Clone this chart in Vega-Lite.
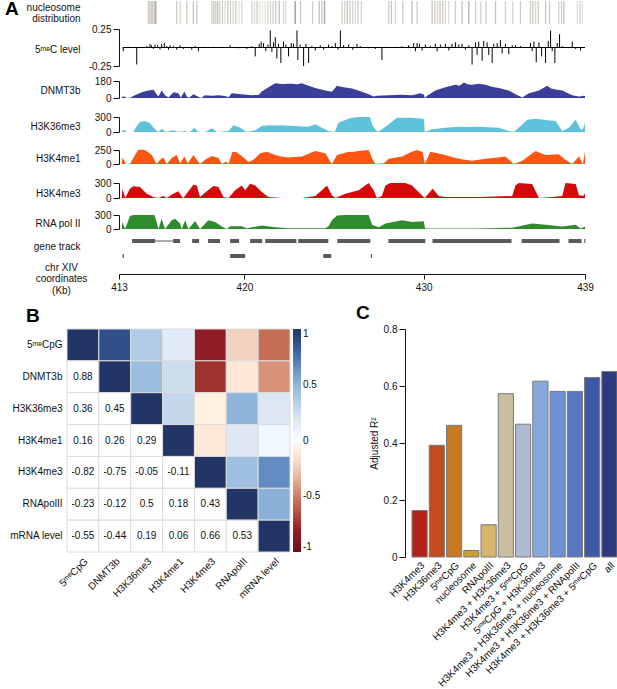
{
"$schema": "https://vega.github.io/schema/vega-lite/v6.json",
"padding": {"left": 5, "top": 0, "right": 0, "bottom": 0},
"config": {
  "font": "Liberation Sans",
  "view": {"stroke": null},
  "axis": {"labelFontSize": 10, "titleFontSize": 10, "titleFontWeight": "normal", "labelColor": "#111", "titleColor": "#111", "domainColor": "#111", "tickColor": "#111", "grid": false, "labelFont": "Liberation Sans", "titleFont": "Liberation Sans"},
  "legend": {"labelFont": "Liberation Sans"},
  "title": {"font": "Liberation Sans"},
  "locale": {"number": {"decimal": ".", "thousands": ",", "grouping": [3], "currency": ["$", ""], "minus": "-"}}
},
"datasets": {
  "nuc": [{"kb":414.64,"occ":0.5},{"kb":414.71,"occ":0.45},{"kb":414.79,"occ":0.55},{"kb":414.86,"occ":0.5},{"kb":414.96,"occ":0.6},{"kb":415.05,"occ":0.8},{"kb":416.22,"occ":0.5},{"kb":416.41,"occ":0.45},{"kb":416.78,"occ":0.5},{"kb":417.15,"occ":0.55},{"kb":417.34,"occ":0.5},{"kb":418.18,"occ":0.45},{"kb":418.29,"occ":0.55},{"kb":418.4,"occ":0.5},{"kb":418.51,"occ":0.6},{"kb":418.62,"occ":0.45},{"kb":418.77,"occ":0.5},{"kb":418.92,"occ":0.4},{"kb":419.07,"occ":0.55},{"kb":419.22,"occ":0.5},{"kb":419.37,"occ":0.45},{"kb":419.52,"occ":0.55},{"kb":419.7,"occ":0.35},{"kb":419.85,"occ":0.4},{"kb":420.41,"occ":0.45},{"kb":420.56,"occ":0.4},{"kb":420.71,"occ":0.5},{"kb":420.86,"occ":0.35},{"kb":421.01,"occ":0.3},{"kb":421.16,"occ":0.35},{"kb":421.31,"occ":0.4},{"kb":421.45,"occ":0.45},{"kb":421.6,"occ":0.5},{"kb":421.75,"occ":0.55},{"kb":421.94,"occ":0.6},{"kb":422.18,"occ":0.45},{"kb":422.31,"occ":0.4},{"kb":422.83,"occ":0.9},{"kb":423.13,"occ":0.55},{"kb":423.8,"occ":0.5},{"kb":424.17,"occ":0.6},{"kb":424.32,"occ":0.55},{"kb":424.47,"occ":0.8},{"kb":425.44,"occ":0.5},{"kb":425.59,"occ":0.45},{"kb":425.74,"occ":0.55},{"kb":425.89,"occ":0.5},{"kb":426.04,"occ":0.45},{"kb":426.18,"occ":0.4},{"kb":426.33,"occ":0.5},{"kb":426.52,"occ":0.45},{"kb":428.05,"occ":0.5},{"kb":428.2,"occ":0.55},{"kb":428.42,"occ":0.45},{"kb":428.83,"occ":0.5},{"kb":429.35,"occ":0.6},{"kb":429.63,"occ":0.5},{"kb":430.47,"occ":0.55},{"kb":430.62,"occ":0.5},{"kb":430.77,"occ":0.45},{"kb":430.91,"occ":0.55},{"kb":431.06,"occ":0.5},{"kb":431.21,"occ":0.45},{"kb":431.4,"occ":0.4},{"kb":431.77,"occ":0.5},{"kb":432.14,"occ":0.55},{"kb":432.52,"occ":0.7},{"kb":432.89,"occ":0.5},{"kb":433.19,"occ":0.45},{"kb":433.48,"occ":0.5},{"kb":434.01,"occ":0.55},{"kb":434.56,"occ":0.5},{"kb":434.97,"occ":0.45},{"kb":435.4,"occ":0.5},{"kb":435.96,"occ":0.5},{"kb":436.09,"occ":0.55},{"kb":436.24,"occ":0.45},{"kb":436.39,"occ":0.5},{"kb":436.8,"occ":0.55},{"kb":437.02,"occ":0.5},{"kb":437.54,"occ":0.45},{"kb":437.69,"occ":0.5},{"kb":437.82,"occ":0.55},{"kb":438.57,"occ":0.4},{"kb":438.72,"occ":0.45},{"kb":438.85,"occ":0.35}],
  "meth": [{"kb":413.24,"v":-0.05},{"kb":413.52,"v":0.01},{"kb":413.99,"v":-0.23},{"kb":414.27,"v":0.01},{"kb":414.55,"v":0.02},{"kb":414.73,"v":0.05},{"kb":414.82,"v":0.03},{"kb":414.92,"v":-0.02},{"kb":415.01,"v":0.04},{"kb":415.16,"v":0.03},{"kb":415.29,"v":-0.03},{"kb":415.38,"v":0.05},{"kb":415.53,"v":0.06},{"kb":415.66,"v":0.02},{"kb":415.76,"v":-0.03},{"kb":415.85,"v":0.03},{"kb":416.04,"v":0.02},{"kb":416.22,"v":-0.03},{"kb":416.41,"v":0.03},{"kb":416.59,"v":-0.02},{"kb":417.06,"v":-0.03},{"kb":417.25,"v":0.02},{"kb":417.43,"v":-0.05},{"kb":417.71,"v":0.01},{"kb":418.27,"v":0.01},{"kb":418.74,"v":0.01},{"kb":419.2,"v":0.03},{"kb":419.67,"v":-0.01},{"kb":420.13,"v":-0.02},{"kb":420.41,"v":0.02},{"kb":420.6,"v":-0.12},{"kb":420.82,"v":0.05},{"kb":420.93,"v":0.08},{"kb":421.06,"v":0.06},{"kb":421.19,"v":-0.05},{"kb":421.31,"v":0.04},{"kb":421.44,"v":0.23},{"kb":421.53,"v":-0.06},{"kb":421.62,"v":0.07},{"kb":421.72,"v":0.14},{"kb":421.81,"v":-0.15},{"kb":421.9,"v":0.05},{"kb":422.03,"v":-0.21},{"kb":422.18,"v":0.08},{"kb":422.31,"v":0.04},{"kb":422.46,"v":-0.12},{"kb":422.61,"v":0.06},{"kb":422.74,"v":0.05},{"kb":422.93,"v":0.23},{"kb":422.98,"v":-0.17},{"kb":423.11,"v":0.04},{"kb":423.3,"v":-0.25},{"kb":423.43,"v":0.05},{"kb":423.58,"v":-0.21},{"kb":423.76,"v":0.02},{"kb":423.95,"v":-0.04},{"kb":424.23,"v":0.03},{"kb":424.42,"v":-0.03},{"kb":424.69,"v":0.04},{"kb":424.88,"v":0.02},{"kb":425.07,"v":0.06},{"kb":425.22,"v":-0.03},{"kb":425.35,"v":0.23},{"kb":425.53,"v":0.03},{"kb":425.81,"v":0.04},{"kb":426.04,"v":-0.03},{"kb":426.28,"v":0.05},{"kb":426.46,"v":0.02},{"kb":426.93,"v":-0.01},{"kb":427.3,"v":-0.02},{"kb":427.67,"v":-0.17},{"kb":427.86,"v":0.01},{"kb":428.42,"v":0.01},{"kb":428.79,"v":0.02},{"kb":429.16,"v":0.03},{"kb":429.44,"v":0.06},{"kb":429.54,"v":-0.05},{"kb":429.63,"v":0.06},{"kb":429.76,"v":0.05},{"kb":429.91,"v":-0.04},{"kb":430.09,"v":0.04},{"kb":430.37,"v":0.02},{"kb":430.65,"v":0.05},{"kb":430.75,"v":-0.05},{"kb":430.93,"v":0.04},{"kb":431.21,"v":0.05},{"kb":431.4,"v":-0.04},{"kb":431.58,"v":0.05},{"kb":431.77,"v":0.07},{"kb":431.96,"v":0.04},{"kb":432.14,"v":0.05},{"kb":432.33,"v":-0.03},{"kb":432.52,"v":0.03},{"kb":432.7,"v":-0.23},{"kb":432.89,"v":0.07},{"kb":432.98,"v":-0.1},{"kb":433.07,"v":0.08},{"kb":433.26,"v":-0.18},{"kb":433.35,"v":0.09},{"kb":433.54,"v":0.07},{"kb":433.63,"v":-0.1},{"kb":433.82,"v":-0.21},{"kb":433.91,"v":0.05},{"kb":434.1,"v":0.06},{"kb":434.28,"v":0.1},{"kb":434.38,"v":-0.08},{"kb":434.56,"v":0.05},{"kb":434.75,"v":-0.09},{"kb":434.94,"v":0.03},{"kb":435.12,"v":0.03},{"kb":435.4,"v":0.02},{"kb":435.96,"v":0.06},{"kb":436.05,"v":-0.05},{"kb":436.15,"v":0.08},{"kb":436.28,"v":-0.2},{"kb":436.43,"v":0.07},{"kb":436.58,"v":-0.12},{"kb":436.8,"v":-0.21},{"kb":436.95,"v":0.09},{"kb":437.08,"v":0.23},{"kb":437.17,"v":-0.05},{"kb":437.32,"v":-0.21},{"kb":437.45,"v":0.06},{"kb":437.58,"v":0.18},{"kb":437.73,"v":0.02},{"kb":438.29,"v":0.08},{"kb":438.48,"v":-0.02},{"kb":438.75,"v":-0.04}],
  "dnmt": [{"kb":413.15,"v":0},{"kb":413.19,"v":15},{"kb":413.34,"v":12},{"kb":413.43,"v":0},{"kb":413.61,"v":3},{"kb":413.89,"v":30},{"kb":414.27,"v":60},{"kb":414.64,"v":80},{"kb":414.92,"v":88},{"kb":415.1,"v":40},{"kb":415.2,"v":15},{"kb":415.38,"v":80},{"kb":415.57,"v":30},{"kb":415.76,"v":5},{"kb":416.04,"v":60},{"kb":416.31,"v":50},{"kb":416.45,"v":5},{"kb":416.65,"v":70},{"kb":416.78,"v":15},{"kb":416.91,"v":3},{"kb":417.15,"v":40},{"kb":417.43,"v":12},{"kb":417.58,"v":0},{"kb":417.8,"v":30},{"kb":418.18,"v":25},{"kb":418.55,"v":28},{"kb":418.92,"v":22},{"kb":419.11,"v":8},{"kb":419.29,"v":50},{"kb":419.55,"v":45},{"kb":419.85,"v":40},{"kb":420.41,"v":30},{"kb":420.78,"v":32},{"kb":420.97,"v":70},{"kb":421.34,"v":115},{"kb":421.72,"v":157},{"kb":422.09,"v":147},{"kb":422.4,"v":152},{"kb":422.65,"v":150},{"kb":422.95,"v":145},{"kb":423.2,"v":157},{"kb":423.58,"v":130},{"kb":423.95,"v":105},{"kb":424.51,"v":80},{"kb":424.88,"v":65},{"kb":425.16,"v":130},{"kb":425.4,"v":118},{"kb":425.63,"v":110},{"kb":426.0,"v":100},{"kb":426.56,"v":65},{"kb":426.93,"v":40},{"kb":427.21,"v":15},{"kb":427.39,"v":25},{"kb":428.05,"v":30},{"kb":428.7,"v":35},{"kb":429.35,"v":30},{"kb":429.81,"v":50},{"kb":430.02,"v":35},{"kb":430.06,"v":0},{"kb":430.19,"v":25},{"kb":430.65,"v":80},{"kb":431.21,"v":115},{"kb":431.77,"v":140},{"kb":432.0,"v":130},{"kb":432.24,"v":165},{"kb":432.45,"v":145},{"kb":432.7,"v":140},{"kb":433.07,"v":150},{"kb":433.45,"v":140},{"kb":433.8,"v":120},{"kb":434.19,"v":105},{"kb":434.75,"v":80},{"kb":435.12,"v":40},{"kb":435.5,"v":5},{"kb":435.87,"v":50},{"kb":436.43,"v":80},{"kb":436.89,"v":130},{"kb":437.1,"v":100},{"kb":437.36,"v":90},{"kb":437.73,"v":80},{"kb":438.29,"v":30},{"kb":438.66,"v":15},{"kb":438.94,"v":25},{"kb":439.0,"v":20}],
  "k36": [{"kb":413.15,"v":0},{"kb":413.19,"v":40},{"kb":413.34,"v":30},{"kb":413.45,"v":0},{"kb":413.8,"v":0},{"kb":413.99,"v":120},{"kb":414.17,"v":200},{"kb":414.45,"v":220},{"kb":414.73,"v":175},{"kb":415.01,"v":55},{"kb":415.2,"v":0},{"kb":415.4,"v":65},{"kb":415.6,"v":0},{"kb":416.03,"v":35},{"kb":416.31,"v":0},{"kb":416.69,"v":20},{"kb":416.85,"v":0},{"kb":417.0,"v":10},{"kb":417.21,"v":85},{"kb":417.43,"v":0},{"kb":417.85,"v":5},{"kb":418.18,"v":75},{"kb":418.46,"v":0},{"kb":419.11,"v":20},{"kb":419.39,"v":135},{"kb":419.76,"v":85},{"kb":420.13,"v":0},{"kb":420.6,"v":35},{"kb":420.97,"v":120},{"kb":421.34,"v":135},{"kb":421.7,"v":130},{"kb":422.09,"v":135},{"kb":422.45,"v":125},{"kb":422.83,"v":120},{"kb":423.2,"v":110},{"kb":423.58,"v":105},{"kb":423.95,"v":155},{"kb":424.32,"v":85},{"kb":424.69,"v":20},{"kb":425.03,"v":0},{"kb":425.25,"v":185},{"kb":425.81,"v":265},{"kb":426.0,"v":285},{"kb":426.4,"v":300},{"kb":427.0,"v":300},{"kb":427.16,"v":120},{"kb":427.44,"v":0},{"kb":427.67,"v":55},{"kb":428.05,"v":155},{"kb":428.51,"v":285},{"kb":429.35,"v":285},{"kb":429.91,"v":265},{"kb":430.02,"v":250},{"kb":430.06,"v":0},{"kb":430.47,"v":55},{"kb":431.21,"v":85},{"kb":431.96,"v":105},{"kb":432.5,"v":100},{"kb":433.07,"v":105},{"kb":433.6,"v":95},{"kb":434.19,"v":85},{"kb":434.75,"v":20},{"kb":435.03,"v":0},{"kb":435.4,"v":120},{"kb":435.78,"v":245},{"kb":436.24,"v":265},{"kb":436.8,"v":240},{"kb":437.36,"v":220},{"kb":437.73,"v":20},{"kb":438.1,"v":85},{"kb":438.48,"v":245},{"kb":438.75,"v":55},{"kb":438.88,"v":55},{"kb":439.0,"v":185}],
  "k4me1": [{"kb":413.15,"v":0},{"kb":413.19,"v":115},{"kb":413.3,"v":60},{"kb":413.38,"v":0},{"kb":413.61,"v":0},{"kb":413.89,"v":160},{"kb":414.08,"v":255},{"kb":414.45,"v":250},{"kb":414.83,"v":160},{"kb":415.1,"v":0},{"kb":415.29,"v":75},{"kb":415.48,"v":115},{"kb":415.66,"v":0},{"kb":415.94,"v":105},{"kb":416.22,"v":160},{"kb":416.41,"v":15},{"kb":416.65,"v":135},{"kb":416.84,"v":15},{"kb":417.15,"v":160},{"kb":417.52,"v":0},{"kb":417.8,"v":75},{"kb":418.18,"v":145},{"kb":418.55,"v":105},{"kb":418.74,"v":0},{"kb":418.96,"v":45},{"kb":419.11,"v":0},{"kb":419.33,"v":220},{"kb":419.57,"v":210},{"kb":419.95,"v":115},{"kb":420.23,"v":35},{"kb":420.5,"v":75},{"kb":420.88,"v":190},{"kb":421.25,"v":220},{"kb":421.72,"v":160},{"kb":422.1,"v":130},{"kb":422.46,"v":115},{"kb":422.83,"v":125},{"kb":423.2,"v":135},{"kb":423.95,"v":230},{"kb":424.51,"v":190},{"kb":424.88,"v":0},{"kb":425.16,"v":160},{"kb":425.81,"v":220},{"kb":426.0,"v":215},{"kb":426.37,"v":230},{"kb":426.93,"v":250},{"kb":427.12,"v":105},{"kb":427.3,"v":0},{"kb":427.77,"v":15},{"kb":428.05,"v":95},{"kb":428.79,"v":135},{"kb":429.35,"v":220},{"kb":429.63,"v":250},{"kb":429.95,"v":210},{"kb":430.06,"v":0},{"kb":430.37,"v":220},{"kb":431.03,"v":175},{"kb":431.77,"v":105},{"kb":432.2,"v":80},{"kb":432.7,"v":60},{"kb":433.45,"v":95},{"kb":434.0,"v":110},{"kb":434.56,"v":135},{"kb":435.03,"v":0},{"kb":435.5,"v":60},{"kb":436.24,"v":230},{"kb":436.8,"v":160},{"kb":437.54,"v":175},{"kb":437.91,"v":75},{"kb":438.29,"v":0},{"kb":438.66,"v":135},{"kb":438.88,"v":0},{"kb":439.0,"v":220}],
  "k4me3": [{"kb":413.15,"v":0},{"kb":413.19,"v":185},{"kb":413.3,"v":60},{"kb":413.34,"v":0},{"kb":413.61,"v":185},{"kb":413.8,"v":235},{"kb":414.17,"v":220},{"kb":414.55,"v":85},{"kb":414.92,"v":20},{"kb":415.2,"v":0},{"kb":415.48,"v":40},{"kb":415.66,"v":0},{"kb":416.03,"v":85},{"kb":416.31,"v":135},{"kb":416.5,"v":30},{"kb":416.59,"v":0},{"kb":417.15,"v":265},{"kb":417.34,"v":250},{"kb":417.52,"v":20},{"kb":417.9,"v":135},{"kb":418.27,"v":240},{"kb":418.55,"v":220},{"kb":418.83,"v":20},{"kb":419.11,"v":0},{"kb":419.48,"v":155},{"kb":419.85,"v":250},{"kb":420.04,"v":155},{"kb":420.32,"v":285},{"kb":420.6,"v":250},{"kb":420.97,"v":120},{"kb":421.34,"v":20},{"kb":422.09,"v":0},{"kb":423.2,"v":0},{"kb":423.95,"v":40},{"kb":424.32,"v":155},{"kb":424.6,"v":250},{"kb":424.88,"v":55},{"kb":425.07,"v":0},{"kb":425.63,"v":85},{"kb":426.37,"v":155},{"kb":426.93,"v":300},{"kb":427.21,"v":155},{"kb":427.39,"v":0},{"kb":427.67,"v":40},{"kb":427.86,"v":250},{"kb":428.14,"v":300},{"kb":428.98,"v":300},{"kb":429.35,"v":250},{"kb":429.81,"v":85},{"kb":430.06,"v":0},{"kb":430.5,"v":185},{"kb":430.84,"v":40},{"kb":431.21,"v":20},{"kb":433.07,"v":20},{"kb":434.94,"v":40},{"kb":435.12,"v":250},{"kb":435.31,"v":300},{"kb":436.05,"v":280},{"kb":436.43,"v":0},{"kb":437.17,"v":20},{"kb":437.73,"v":40},{"kb":437.91,"v":300},{"kb":438.48,"v":280},{"kb":438.66,"v":55},{"kb":438.94,"v":40},{"kb":439.0,"v":110}],
  "pol2": [{"kb":413.15,"v":0},{"kb":413.19,"v":150},{"kb":413.34,"v":0},{"kb":413.61,"v":280},{"kb":413.8,"v":300},{"kb":414.98,"v":300},{"kb":415.1,"v":150},{"kb":415.2,"v":0},{"kb":415.38,"v":220},{"kb":415.57,"v":0},{"kb":415.94,"v":185},{"kb":416.13,"v":220},{"kb":416.41,"v":120},{"kb":416.5,"v":0},{"kb":416.69,"v":185},{"kb":416.87,"v":0},{"kb":417.25,"v":170},{"kb":417.52,"v":0},{"kb":417.99,"v":185},{"kb":418.36,"v":150},{"kb":418.74,"v":55},{"kb":419.02,"v":0},{"kb":419.2,"v":60},{"kb":419.85,"v":60},{"kb":420.13,"v":15},{"kb":420.97,"v":75},{"kb":421.72,"v":40},{"kb":422.46,"v":15},{"kb":424.51,"v":15},{"kb":424.69,"v":60},{"kb":424.88,"v":185},{"kb":425.16,"v":290},{"kb":425.63,"v":300},{"kb":426.93,"v":300},{"kb":427.12,"v":90},{"kb":427.49,"v":40},{"kb":427.86,"v":120},{"kb":428.79,"v":185},{"kb":429.35,"v":150},{"kb":430.0,"v":165},{"kb":430.08,"v":10},{"kb":431.0,"v":10},{"kb":433.0,"v":12},{"kb":434.94,"v":25},{"kb":436.05,"v":120},{"kb":436.8,"v":90},{"kb":437.73,"v":55},{"kb":438.48,"v":90},{"kb":438.75,"v":10},{"kb":439.0,"v":55}],
  "genes": [{"start":413.73,"end":415.01,"strand":"W","part":"exon"},{"start":415.01,"end":416.02,"strand":"W","part":"intron"},{"start":416.02,"end":416.41,"strand":"W","part":"exon"},{"start":417.08,"end":417.47,"strand":"W","part":"exon"},{"start":417.97,"end":418.64,"strand":"W","part":"exon"},{"start":419.2,"end":419.7,"strand":"W","part":"exon"},{"start":420.32,"end":420.99,"strand":"W","part":"exon"},{"start":421.16,"end":422.9,"strand":"W","part":"exon"},{"start":423.0,"end":424.68,"strand":"W","part":"exon"},{"start":425.18,"end":427.02,"strand":"W","part":"exon"},{"start":428.03,"end":430.09,"strand":"W","part":"exon"},{"start":430.49,"end":434.9,"strand":"W","part":"exon"},{"start":435.46,"end":437.58,"strand":"W","part":"exon"},{"start":438.08,"end":438.81,"strand":"W","part":"exon"},{"start":438.96,"end":439.02,"strand":"W","part":"exon"},{"start":413.2,"end":413.27,"strand":"C","part":"exon"},{"start":419.2,"end":420.04,"strand":"C","part":"exon"},{"start":424.4,"end":424.84,"strand":"C","part":"exon"},{"start":427.05,"end":427.12,"strand":"C","part":"exon"}],
  "corr": [
    {"row":"5ᵐᵉCpG","col":"5ᵐᵉCpG","r":1,"tri":"diag"},{"row":"5ᵐᵉCpG","col":"DNMT3b","r":0.88,"tri":"upper"},{"row":"5ᵐᵉCpG","col":"H3K36me3","r":0.36,"tri":"upper"},{"row":"5ᵐᵉCpG","col":"H3K4me1","r":0.16,"tri":"upper"},{"row":"5ᵐᵉCpG","col":"H3K4me3","r":-0.82,"tri":"upper"},{"row":"5ᵐᵉCpG","col":"RNApolII","r":-0.23,"tri":"upper"},{"row":"5ᵐᵉCpG","col":"mRNA level","r":-0.55,"tri":"upper"},
    {"row":"DNMT3b","col":"5ᵐᵉCpG","r":0.88,"tri":"lower"},{"row":"DNMT3b","col":"DNMT3b","r":1,"tri":"diag"},{"row":"DNMT3b","col":"H3K36me3","r":0.45,"tri":"upper"},{"row":"DNMT3b","col":"H3K4me1","r":0.26,"tri":"upper"},{"row":"DNMT3b","col":"H3K4me3","r":-0.75,"tri":"upper"},{"row":"DNMT3b","col":"RNApolII","r":-0.12,"tri":"upper"},{"row":"DNMT3b","col":"mRNA level","r":-0.44,"tri":"upper"},
    {"row":"H3K36me3","col":"5ᵐᵉCpG","r":0.36,"tri":"lower"},{"row":"H3K36me3","col":"DNMT3b","r":0.45,"tri":"lower"},{"row":"H3K36me3","col":"H3K36me3","r":1,"tri":"diag"},{"row":"H3K36me3","col":"H3K4me1","r":0.29,"tri":"upper"},{"row":"H3K36me3","col":"H3K4me3","r":-0.05,"tri":"upper"},{"row":"H3K36me3","col":"RNApolII","r":0.5,"tri":"upper"},{"row":"H3K36me3","col":"mRNA level","r":0.19,"tri":"upper"},
    {"row":"H3K4me1","col":"5ᵐᵉCpG","r":0.16,"tri":"lower"},{"row":"H3K4me1","col":"DNMT3b","r":0.26,"tri":"lower"},{"row":"H3K4me1","col":"H3K36me3","r":0.29,"tri":"lower"},{"row":"H3K4me1","col":"H3K4me1","r":1,"tri":"diag"},{"row":"H3K4me1","col":"H3K4me3","r":-0.11,"tri":"upper"},{"row":"H3K4me1","col":"RNApolII","r":0.18,"tri":"upper"},{"row":"H3K4me1","col":"mRNA level","r":0.06,"tri":"upper"},
    {"row":"H3K4me3","col":"5ᵐᵉCpG","r":-0.82,"tri":"lower"},{"row":"H3K4me3","col":"DNMT3b","r":-0.75,"tri":"lower"},{"row":"H3K4me3","col":"H3K36me3","r":-0.05,"tri":"lower"},{"row":"H3K4me3","col":"H3K4me1","r":-0.11,"tri":"lower"},{"row":"H3K4me3","col":"H3K4me3","r":1,"tri":"diag"},{"row":"H3K4me3","col":"RNApolII","r":0.43,"tri":"upper"},{"row":"H3K4me3","col":"mRNA level","r":0.66,"tri":"upper"},
    {"row":"RNApolII","col":"5ᵐᵉCpG","r":-0.23,"tri":"lower"},{"row":"RNApolII","col":"DNMT3b","r":-0.12,"tri":"lower"},{"row":"RNApolII","col":"H3K36me3","r":0.5,"tri":"lower"},{"row":"RNApolII","col":"H3K4me1","r":0.18,"tri":"lower"},{"row":"RNApolII","col":"H3K4me3","r":0.43,"tri":"lower"},{"row":"RNApolII","col":"RNApolII","r":1,"tri":"diag"},{"row":"RNApolII","col":"mRNA level","r":0.53,"tri":"upper"},
    {"row":"mRNA level","col":"5ᵐᵉCpG","r":-0.55,"tri":"lower"},{"row":"mRNA level","col":"DNMT3b","r":-0.44,"tri":"lower"},{"row":"mRNA level","col":"H3K36me3","r":0.19,"tri":"lower"},{"row":"mRNA level","col":"H3K4me1","r":0.06,"tri":"lower"},{"row":"mRNA level","col":"H3K4me3","r":0.66,"tri":"lower"},{"row":"mRNA level","col":"RNApolII","r":0.53,"tri":"lower"},{"row":"mRNA level","col":"mRNA level","r":1,"tri":"diag"}],
  "r2": [{"model":"H3K4me3","adjR2":0.163},{"model":"H3K36me3","adjR2":0.392},{"model":"5ᵐᵉCpG","adjR2":0.462},{"model":"nucleosome","adjR2":0.023},{"model":"RNApolII","adjR2":0.113},{"model":"H3K4me3 + H3K36me3","adjR2":0.573},{"model":"H3K4me3 + 5ᵐᵉCpG","adjR2":0.466},{"model":"5ᵐᵉCpG + H3K36me3","adjR2":0.617},{"model":"H3K4me3 + H3K36me3 + nucleosome","adjR2":0.581},{"model":"H3K4me3 + H3K36me3 + RNApolII","adjR2":0.581},{"model":"H3K4me3 + H3K36me3 + 5ᵐᵉCpG","adjR2":0.63},{"model":"all","adjR2":0.651}]
},
"bounds": "flush",
"spacing": 0,
"vconcat": [
  {
    "width": 518, "height": 23,
    "title": {"text": "A", "anchor": "start", "frame": "group", "fontSize": 19, "fontWeight": "bold", "offset": 0, "dx": -62, "dy": 34, "baseline": "alphabetic", "color": "#000"},
    "data": {"name": "nuc"},
    "mark": {"type": "rule", "strokeWidth": 1.3},
    "encoding": {
      "x": {"field": "kb", "type": "quantitative", "scale": {"domain": [413, 439], "range": [52, 518], "nice": false, "zero": false}, "axis": null},
      "y": {"datum": 0, "type": "quantitative", "scale": {"domain": [0, 1], "range": [23, 0], "nice": false}, "axis": {"title": ["nucleosome", "distribution"], "labels": false, "ticks": false, "domain": false, "offset": -52, "titleAngle": 0, "titleAlign": "right", "titleBaseline": "top", "titleX": -39, "titleY": 1, "titleLineHeight": 11}},
      "y2": {"datum": 1},
      "color": {"field": "occ", "type": "quantitative", "scale": {"domain": [0.3, 0.9], "range": ["#ece9e4", "#9a948b"]}, "legend": null}
    }
  },
  {
    "width": 518, "height": 42,
    "layer": [
      {
        "data": {"name": "meth"},
        "mark": {"type": "rule", "color": "#000", "strokeWidth": 1},
        "encoding": {
          "x": {"field": "kb", "type": "quantitative", "scale": {"domain": [413, 439], "range": [52, 518], "nice": false, "zero": false}, "axis": null},
          "y": {"field": "v", "type": "quantitative", "scale": {"domain": [-0.25, 0.25], "range": [42, 5], "nice": false, "zero": false}, "axis": {"values": [-0.25, 0, 0.25], "labelExpr": "datum.value == 0 ? '0' : format(datum.value, '.2f')", "offset": -52, "title": "5ᵐᵉC level", "titleAngle": 0, "titleAlign": "right", "titleBaseline": "middle", "titleX": -39, "titleY": 25, "tickSize": 6, "labelPadding": 2, "labelOverlap": false}},
          "y2": {"datum": 0}
        }
      },
      {
        "data": {"values": [{"from": 413.2, "to": 439}]},
        "mark": {"type": "rule", "color": "#000", "strokeWidth": 1},
        "encoding": {
          "x": {"field": "from", "type": "quantitative"},
          "x2": {"field": "to"},
          "y": {"datum": 0, "type": "quantitative"}
        }
      }
    ]
  },
  {
    "width": 518, "height": 32,
    "data": {"name": "dnmt"},
    "mark": {"type": "area", "color": "#3C3F9A"},
    "encoding": {
      "x": {"field": "kb", "type": "quantitative", "scale": {"domain": [413, 439], "range": [52, 518], "nice": false, "zero": false}, "axis": null},
      "y": {"field": "v", "type": "quantitative", "scale": {"domain": [0, 180], "range": [32, 15], "nice": false}, "axis": {"values": [0, 180], "offset": -52, "title": "DNMT3b", "titleAngle": 0, "titleAlign": "right", "titleBaseline": "middle", "titleX": -39, "titleY": 24, "tickSize": 6, "labelPadding": 2, "labelOverlap": false}}
    }
  },
  {
    "width": 518, "height": 34,
    "data": {"name": "k36"},
    "mark": {"type": "area", "color": "#5EC2DB"},
    "encoding": {
      "x": {"field": "kb", "type": "quantitative", "scale": {"domain": [413, 439], "range": [52, 518], "nice": false, "zero": false}, "axis": null},
      "y": {"field": "v", "type": "quantitative", "scale": {"domain": [0, 300], "range": [34, 19], "nice": false}, "axis": {"values": [0, 300], "offset": -52, "title": "H3K36me3", "titleAngle": 0, "titleAlign": "right", "titleBaseline": "middle", "titleX": -39, "titleY": 28, "tickSize": 6, "labelPadding": 2, "labelOverlap": false}}
    }
  },
  {
    "width": 518, "height": 32,
    "data": {"name": "k4me1"},
    "mark": {"type": "area", "color": "#FF5512"},
    "encoding": {
      "x": {"field": "kb", "type": "quantitative", "scale": {"domain": [413, 439], "range": [52, 518], "nice": false, "zero": false}, "axis": null},
      "y": {"field": "v", "type": "quantitative", "scale": {"domain": [0, 250], "range": [32, 18], "nice": false}, "axis": {"values": [0, 250], "offset": -52, "title": "H3K4me1", "titleAngle": 0, "titleAlign": "right", "titleBaseline": "middle", "titleX": -39, "titleY": 26, "tickSize": 6, "labelPadding": 2, "labelOverlap": false}}
    }
  },
  {
    "width": 518, "height": 34,
    "data": {"name": "k4me3"},
    "mark": {"type": "area", "color": "#D20A0A"},
    "encoding": {
      "x": {"field": "kb", "type": "quantitative", "scale": {"domain": [413, 439], "range": [52, 518], "nice": false, "zero": false}, "axis": null},
      "y": {"field": "v", "type": "quantitative", "scale": {"domain": [0, 300], "range": [34, 19], "nice": false}, "axis": {"values": [0, 300], "offset": -52, "title": "H3K4me3", "titleAngle": 0, "titleAlign": "right", "titleBaseline": "middle", "titleX": -39, "titleY": 29, "tickSize": 6, "labelPadding": 2, "labelOverlap": false}}
    }
  },
  {
    "width": 518, "height": 31,
    "data": {"name": "pol2"},
    "mark": {"type": "area", "color": "#2E8B2E"},
    "encoding": {
      "x": {"field": "kb", "type": "quantitative", "scale": {"domain": [413, 439], "range": [52, 518], "nice": false, "zero": false}, "axis": null},
      "y": {"field": "v", "type": "quantitative", "scale": {"domain": [0, 300], "range": [31, 17], "nice": false}, "axis": {"values": [0, 300], "offset": -52, "title": "RNA pol II", "titleAngle": 0, "titleAlign": "right", "titleBaseline": "middle", "titleX": -39, "titleY": 25, "tickSize": 6, "labelPadding": 2, "labelOverlap": false}}
    }
  },
  {
    "width": 518, "height": 100,
    "data": {"name": "genes"},
    "layer": [
      {
        "transform": [{"filter": "datum.part == 'exon'"}],
        "mark": {"type": "bar", "color": "#5a5a5a", "height": {"band": 0.3}},
        "encoding": {
          "x": {"field": "start", "type": "quantitative", "scale": {"domain": [413, 439], "range": [52, 518], "nice": false, "zero": false}, "axis": {"values": [413, 420, 430, 439], "format": "d", "offset": -55, "tickSize": 5, "labelPadding": 3, "labelFlush": false, "labelOverlap": false, "title": ["chr XIV", "coordinates", "(Kb)"], "titleAngle": 0, "titleAlign": "center", "titleBaseline": "top", "titleX": -6, "titleY": -12, "titleLineHeight": 11.5}},
          "x2": {"field": "end"},
          "y": {"field": "strand", "type": "nominal", "scale": {"domain": ["W", "C"], "range": [4.5, 34.5]}, "axis": {"title": "gene track", "labels": false, "ticks": false, "domain": false, "offset": -52, "titleAngle": 0, "titleAlign": "right", "titleBaseline": "middle", "titleX": -39, "titleY": 17}}
        }
      },
      {
        "transform": [{"filter": "datum.part == 'intron'"}],
        "mark": {"type": "rule", "color": "#5a5a5a", "strokeWidth": 1},
        "encoding": {
          "x": {"field": "start", "type": "quantitative"},
          "x2": {"field": "end"},
          "y": {"field": "strand", "type": "nominal"}
        }
      }
    ]
  },
  {
    "hconcat": [
      {
        "width": 223, "height": 223,
        "title": {"text": "B", "anchor": "start", "frame": "group", "fontSize": 19, "fontWeight": "bold", "offset": 0, "dx": -41, "dy": 12, "baseline": "alphabetic", "color": "#000"},
        "data": {"name": "corr"},
        "layer": [
          {
            "mark": {"type": "rect", "stroke": "#dcdcdc", "strokeWidth": 1},
            "encoding": {
              "x": {"field": "col", "type": "nominal", "sort": ["5ᵐᵉCpG", "DNMT3b", "H3K36me3", "H3K4me1", "H3K4me3", "RNApolII", "mRNA level"], "scale": {"paddingInner": 0, "paddingOuter": 0}, "axis": {"title": null, "labelAngle": -45, "ticks": false, "domain": false, "labelPadding": 4}},
              "y": {"field": "row", "type": "nominal", "sort": ["5ᵐᵉCpG", "DNMT3b", "H3K36me3", "H3K4me1", "H3K4me3", "RNApolII", "mRNA level"], "scale": {"paddingInner": 0, "paddingOuter": 0}, "axis": {"title": null, "ticks": false, "domain": false, "labelPadding": 5}},
              "color": {
                "condition": [{"test": "datum.tri == 'lower'", "value": "#ffffff"}, {"test": "datum.tri == 'diag'", "value": "#233566"}],
                "field": "r", "type": "quantitative",
                "scale": {"domain": [-1, -0.8, -0.55, -0.4, -0.2, 0, 0.2, 0.4, 0.55, 0.8, 1], "range": ["#6B0F1E", "#951D27", "#C56E55", "#DD9F87", "#F4DACA", "#FFFFFF", "#DBE6F2", "#A6C5E2", "#86ADD7", "#3A62A6", "#233566"]},
                "legend": {"orient": "right", "title": null, "direction": "vertical", "gradientLength": 223, "gradientThickness": 8, "values": [-1, -0.5, 0, 0.5, 1], "format": "~g", "offset": 3, "padding": 0, "labelFontSize": 10, "labelColor": "#111"}
              }
            }
          },
          {
            "transform": [{"filter": "datum.tri == 'lower'"}],
            "mark": {"type": "text", "fontSize": 10, "color": "#111"},
            "encoding": {
              "x": {"field": "col", "type": "nominal", "sort": ["5ᵐᵉCpG", "DNMT3b", "H3K36me3", "H3K4me1", "H3K4me3", "RNApolII", "mRNA level"]},
              "y": {"field": "row", "type": "nominal", "sort": ["5ᵐᵉCpG", "DNMT3b", "H3K36me3", "H3K4me1", "H3K4me3", "RNApolII", "mRNA level"]},
              "text": {"field": "r", "type": "quantitative", "format": ".2~f"}
            }
          }
        ]
      },
      {
        "width": 205, "height": 228,
        "title": {"text": "C", "anchor": "start", "frame": "group", "fontSize": 19, "fontWeight": "bold", "offset": 0, "dx": -56, "dy": 14, "baseline": "alphabetic", "color": "#000"},
        "data": {"name": "r2"},
        "mark": {"type": "bar", "stroke": "#7a7a7a", "strokeWidth": 1},
        "encoding": {
          "x": {"field": "model", "type": "nominal", "sort": null, "scale": {"paddingInner": 0.12, "paddingOuter": 0}, "axis": {"title": null, "labelAngle": -45, "ticks": false, "domain": false, "labelPadding": 3, "labelLimit": 300}},
          "y": {"field": "adjR2", "type": "quantitative", "scale": {"domain": [0, 0.8], "nice": false}, "axis": {"values": [0, 0.2, 0.4, 0.6, 0.8], "format": ".1~f", "title": "Adjusted R²", "offset": 7, "tickSize": 6, "labelPadding": 2}},
          "color": {"field": "model", "type": "nominal", "sort": null, "scale": {"range": ["#B5201D", "#C24C1F", "#C57A23", "#CBA12C", "#D4B56A", "#C9BEA2", "#ADBAD1", "#87A8DB", "#6E91D3", "#5878C2", "#3F58A8", "#2D3A7E"]}, "legend": null}
        }
      }
    ],
    "spacing": 122,
    "bounds": "flush"
  }
]
}
